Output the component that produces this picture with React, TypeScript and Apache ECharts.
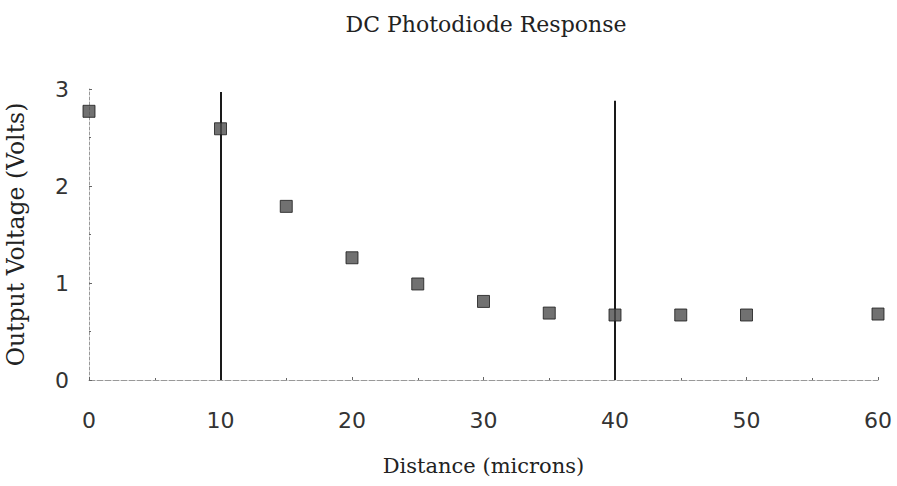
import React, { useEffect, useRef } from "react";
import * as echarts from "echarts";

const distances = [0, 10, 15, 20, 25, 30, 35, 40, 45, 50, 60];
const voltages = [2.77, 2.59, 1.79, 1.26, 0.99, 0.81, 0.69, 0.67, 0.67, 0.67, 0.68];
const markerLines = [
  { x: 10, top: 2.97 },
  { x: 40, top: 2.88 },
];
const titleText = "DC Photodiode Response";
const xName = "Distance (microns)";
const yName = "Output Voltage (Volts)";

export default function App() {
  const ref = useRef<HTMLDivElement>(null);
  useEffect(() => {
    if (!ref.current) return;
    const chart = echarts.init(ref.current, null, { renderer: "svg" });
    const serif = "'DejaVu Serif', 'Liberation Serif', serif";
    const sans = "'DejaVu Sans', sans-serif";
    chart.setOption({
      animation: false,
      backgroundColor: "#ffffff",
      title: {
        text: titleText,
        left: 481,
        top: 8,
        textAlign: "center",
        textStyle: { fontFamily: serif, fontSize: 22, fontWeight: "normal", color: "#222" },
      },
      grid: { left: 89, right: 19, top: 89, bottom: 106, outerBoundsMode: "none" },
      xAxis: {
        type: "value",
        min: 0,
        max: 60,
        interval: 10,
        name: xName,
        nameLocation: "middle",
        nameGap: 75,
        nameTextStyle: { fontFamily: serif, fontSize: 21, color: "#222" },
        axisLine: { show: true, lineStyle: { color: "#999", width: 1, type: [6, 2] } },
        axisTick: { show: true, inside: true, length: 3, lineStyle: { color: "#666" } },
        minorTick: { show: true, splitNumber: 2, length: 2, lineStyle: { color: "#666" } },
        axisLabel: { margin: 29, fontFamily: sans, fontSize: 22, color: "#333" },
        splitLine: { show: false },
      },
      yAxis: {
        type: "value",
        min: 0,
        max: 3,
        interval: 1,
        name: yName,
        nameLocation: "middle",
        nameGap: 61,
        nameTextStyle: { fontFamily: serif, fontSize: 23.5, color: "#222" },
        axisLine: { show: true, lineStyle: { color: "#999", width: 1, type: [3, 2] } },
        axisTick: { show: true, inside: true, length: 3, lineStyle: { color: "#666" } },
        minorTick: { show: true, splitNumber: 2, length: 2, lineStyle: { color: "#666" } },
        axisLabel: { margin: 20, fontFamily: sans, fontSize: 22, color: "#333" },
        splitLine: { show: false },
      },
      series: [
        {
          type: "scatter",
          data: distances.map((d, i) => [d, voltages[i]]),
          symbol: "rect",
          symbolSize: 12,
          itemStyle: { color: "#4e4e4e", borderColor: "#1a1a1a", borderWidth: 1 },
          z: 3,
          markLine: {
            silent: true,
            symbol: ["none", "none"],
            label: { show: false },
            lineStyle: { color: "#1a1a1a", width: 2, type: "solid" },
            data: markerLines.map((m) => [
              { coord: [m.x, 0] },
              { coord: [m.x, m.top] },
            ]),
            z: 2,
          },
        },
      ],
    });
    return () => chart.dispose();
  }, []);
  return (
    <div
      ref={ref}
      style={{ position: "absolute", left: 0, top: 0, width: 897, height: 486 }}
    />
  );
}
